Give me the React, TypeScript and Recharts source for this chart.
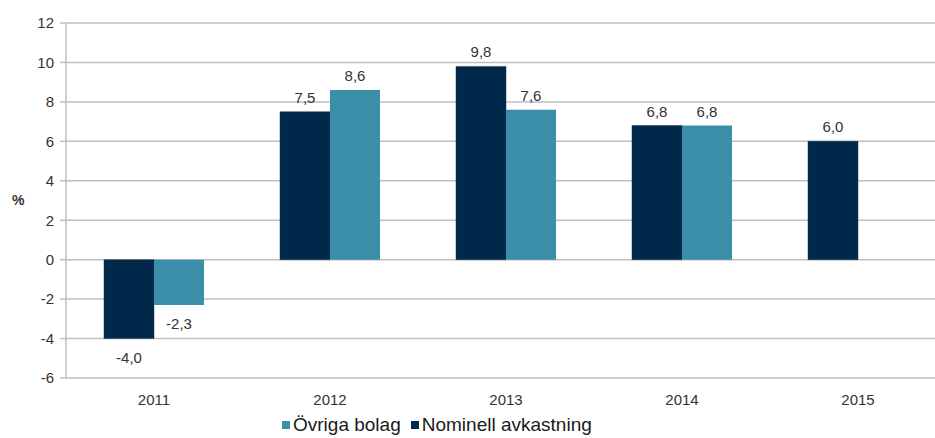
import { BarChart, Bar, XAxis, YAxis, CartesianGrid, Legend, LabelList } from 'recharts'

const years = ['2011', '2012', '2013', '2014', '2015']
const nominell = [-4.0, 7.5, 9.8, 6.8, 6.0]
const ovriga: (number | null)[] = [-2.3, 8.6, 7.6, 6.8, null]
const yTicks = [-6, -4, -2, 0, 2, 4, 6, 8, 10, 12]

const DARK = '#00284a'
const TEAL = '#3a8ea9'
const TEXT = '#333'
const FONT = 'Liberation Sans, Arial, sans-serif'

const data = years.map((year, i) => ({ year, nominell: nominell[i], ovriga: ovriga[i] }))

const fmt = (v: number) => v.toFixed(1).replace('.', ',')

function ValueLabel(props: any) {
    const { x, y, width, height, value } = props
    if (value == null) return null
    const top = Math.min(y, y + height)
    const bottom = Math.max(y, y + height)
    const ty = value >= 0 ? top - 9 : bottom + 24
    return (
        <text x={x + width / 2} y={ty} textAnchor="middle" fill={TEXT} fontSize={15} fontFamily={FONT}>
            {fmt(value)}
        </text>
    )
}

function CustomLegend() {
    const items = [
        { name: 'Övriga bolag', color: TEAL },
        { name: 'Nominell avkastning', color: DARK },
    ]
    return (
        <div style={{ display: 'flex', gap: 10, fontSize: 19, fontFamily: FONT, color: '#1a1a1a', lineHeight: '22px' }}>
            {items.map((it) => (
                <span key={it.name} style={{ display: 'flex', alignItems: 'center', gap: 3 }}>
                    <span style={{ width: 8, height: 8, background: it.color, display: 'inline-block' }} />
                    {it.name}
                </span>
            ))}
        </div>
    )
}

export default function App() {
    return (
        <div style={{ position: 'absolute', left: 0, top: 0, width: 935, height: 438, overflow: 'hidden', background: '#fff' }}>
            <BarChart
                width={952}
                height={438}
                data={data}
                margin={{ top: 23, right: 6, left: 0, bottom: 0 }}
                barCategoryGap={38}
                barGap={0}
            >
                <CartesianGrid vertical={false} stroke="#bfbfbf" strokeWidth={1.5} />
                <XAxis
                    dataKey="year"
                    height={38}
                    tickLine={false}
                    axisLine={false}
                    tick={{ fill: TEXT, fontSize: 15, fontFamily: FONT }}
                    tickMargin={10}
                />
                <YAxis
                    width={66}
                    domain={[-6, 12]}
                    ticks={yTicks}
                    interval={0}
                    stroke="#bfbfbf"
                    strokeWidth={1.5}
                    tickSize={6}
                    tick={{ fill: TEXT, fontSize: 15, fontFamily: FONT }}
                    tickMargin={6}
                    label={{ value: '%', position: 'insideLeft', offset: 12, fill: TEXT, fontSize: 14, fontWeight: 'bold', fontFamily: FONT }}
                />
                <Legend content={<CustomLegend />} wrapperStyle={{ left: 282, top: 414, width: 'auto' }} />
                <Bar dataKey="nominell" name="Nominell avkastning" fill={DARK} stroke="#1d3550" strokeWidth={0.5} isAnimationActive={false}>
                    <LabelList dataKey="nominell" content={<ValueLabel />} />
                </Bar>
                <Bar dataKey="ovriga" name="Övriga bolag" fill={TEAL} isAnimationActive={false}>
                    <LabelList dataKey="ovriga" content={<ValueLabel />} />
                </Bar>
            </BarChart>
        </div>
    )
}
